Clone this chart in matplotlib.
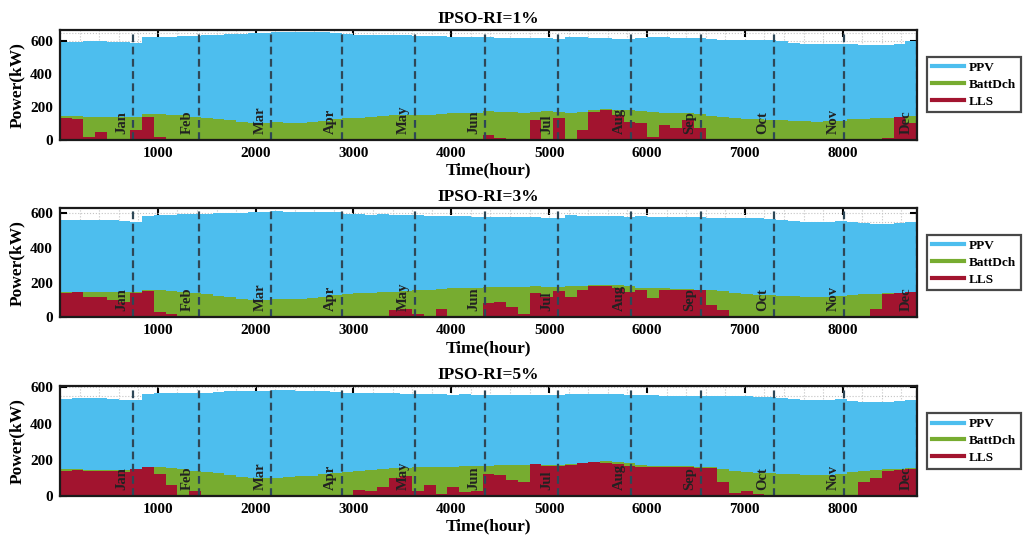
import numpy as np
import matplotlib
matplotlib.use('Agg')
import matplotlib.pyplot as plt
from matplotlib.lines import Line2D
from matplotlib.ticker import MultipleLocator

plt.rcParams['font.family'] = ['Liberation Serif', 'DejaVu Serif']
plt.rcParams['font.weight'] = 'bold'

# hourly series, one value per 120 h block (73 blocks = 8760 h)
block = 120
edges = np.arange(0, 8760 + block, block)

titles = ['IPSO-RI=1%', 'IPSO-RI=3%', 'IPSO-RI=5%']
months = ['Jan', 'Feb', 'Mar', 'Apr', 'May', 'Jun', 'Jul', 'Aug', 'Sep', 'Oct', 'Nov', 'Dec']
days_in_month = [31, 28, 31, 30, 31, 30, 31, 31, 30, 31, 30, 31]
ylims = [670, 630, 608]

# top of the PPV band (stacked on top of BattDch)
ppv_top_1 = [596, 598, 600, 600, 598, 594, 588, 625, 628, 630,
             632, 634, 640, 642, 645, 648, 650, 652, 660, 658,
             656, 655, 657, 654, 645, 642, 640, 641, 639, 638,
             636, 634, 632, 630, 629, 630, 628, 624, 622, 621,
             620, 619, 618, 626, 625, 622, 620, 618, 616, 624,
             625, 626, 624, 623, 622, 616, 612, 610, 612, 608,
             606, 600, 592, 585, 582, 584, 586, 582, 578, 577,
             580, 585, 600]
ppv_top_2 = [560, 562, 563, 562, 560, 556, 552, 588, 590, 592,
             595, 597, 598, 600, 602, 605, 607, 608, 612, 611,
             610, 608, 607, 606, 596, 595, 594, 595, 593, 592,
             590, 588, 586, 585, 583, 582, 580, 580, 578, 580,
             578, 576, 575, 590, 588, 586, 585, 584, 582, 583,
             582, 580, 580, 578, 577, 575, 574, 575, 576, 572,
             570, 565, 558, 552, 550, 552, 556, 548, 545, 542,
             540, 545, 552]
ppv_top_3 = [538, 540, 541, 540, 536, 532, 530, 565, 567, 568,
             568, 567, 570, 575, 578, 580, 582, 583, 586, 584,
             582, 580, 578, 577, 570, 569, 568, 569, 567, 566,
             565, 563, 562, 561, 562, 561, 560, 558, 557, 558,
             556, 557, 558, 566, 566, 565, 564, 562, 560, 556,
             556, 555, 555, 554, 552, 552, 550, 551, 552, 549,
             545, 540, 534, 530, 530, 532, 534, 526, 522, 520,
             520, 524, 532]

# battery discharge
batt_1 = [145, 143, 141, 140, 141, 140, 139, 158, 157, 152,
          148, 140, 135, 128, 118, 110, 102, 100, 105, 103,
          104, 108, 115, 125, 130, 135, 140, 145, 148, 150,
          152, 150, 158, 160, 162, 165, 172, 170, 168, 165,
          170, 172, 168, 165, 170, 178, 186, 182, 178, 172,
          168, 165, 162, 160, 158, 145, 138, 132, 128, 125,
          122, 118, 115, 112, 110, 112, 115, 125, 128, 132,
          135, 140, 145]
batt_2 = [148, 147, 146, 145, 146, 145, 144, 158, 157, 152,
          148, 140, 135, 125, 115, 108, 102, 100, 104, 105,
          108, 112, 119, 128, 134, 138, 142, 146, 148, 150,
          155, 160, 165, 167, 170, 172, 176, 177, 175, 176,
          178, 177, 176, 178, 182, 186, 188, 186, 180, 172,
          170, 168, 166, 163, 160, 158, 150, 140, 132, 129,
          127, 124, 121, 119, 118, 119, 122, 128, 132, 135,
          138, 140, 145]
batt_3 = [148, 147, 146, 145, 146, 145, 144, 159, 158, 152,
          148, 140, 135, 125, 115, 107, 100, 98, 102, 104,
          108, 112, 120, 126, 132, 140, 146, 150, 154, 156,
          158, 160, 162, 163, 164, 165, 168, 170, 172, 172,
          175, 172, 170, 175, 182, 188, 191, 188, 182, 170,
          168, 166, 165, 164, 163, 160, 150, 140, 132, 128,
          126, 122, 119, 117, 117, 118, 122, 135, 140, 145,
          148, 150, 154]

# loss of load
lls_1 = [130, 125, 15, 45, 0, 0, 60, 140, 15, 0,
         0, 0, 0, 0, 0, 0, 0, 0, 0, 0,
         0, 0, 0, 0, 0, 0, 0, 0, 0, 0,
         0, 0, 0, 0, 0, 0, 25, 10, 0, 0,
         120, 0, 130, 0, 60, 170, 180, 150, 110, 100,
         15, 90, 70, 120, 70, 0, 0, 0, 0, 0,
         0, 0, 0, 0, 0, 0, 0, 0, 0, 0,
         10, 140, 100]
lls_2 = [140, 145, 120, 120, 100, 90, 140, 150, 30, 20,
         0, 0, 0, 0, 0, 0, 0, 0, 0, 0,
         0, 0, 0, 0, 0, 0, 0, 10, 40, 50,
         20, 0, 50, 5, 5, 0, 80, 90, 60, 20,
         140, 115, 150, 120, 160, 180, 178, 172, 145, 160,
         110, 155, 155, 155, 155, 70, 40, 0, 0, 0,
         0, 0, 0, 0, 0, 0, 0, 0, 0, 50,
         135, 140, 145]
lls_3 = [140, 142, 140, 138, 136, 135, 150, 158, 120, 60,
         0, 25, 5, 0, 0, 0, 0, 0, 0, 0,
         0, 0, 0, 0, 0, 35, 30, 50, 100, 110,
         30, 60, 10, 50, 20, 25, 120, 115, 90, 80,
         175, 165, 165, 170, 180, 188, 185, 178, 165, 160,
         160, 158, 160, 158, 157, 155, 80, 15, 30, 10,
         0, 0, 0, 0, 0, 0, 0, 0, 80, 100,
         140, 145, 150]

ppv_tops = [ppv_top_1, ppv_top_2, ppv_top_3]
batts = [batt_1, batt_2, batt_3]
llss = [lls_1, lls_2, lls_3]

c_ppv = '#4DBEEE'
c_batt = '#77AC30'
c_lls = '#A2142F'
c_month = '#2E4756'

month_ends = np.cumsum(days_in_month) * 24

fig = plt.figure(figsize=(10.27, 5.41), dpi=100)
positions = [[0.0584, 0.742, 0.8345, 0.2025],
             [0.0584, 0.4135, 0.8345, 0.2015],
             [0.0584, 0.0832, 0.8345, 0.2033]]

for k in range(3):
    ax = fig.add_axes(positions[k])
    ax.set_axisbelow(True)
    ax.grid(True, which='both', linestyle=':', color='#c4c4c4', linewidth=0.8)

    ax.stairs(ppv_tops[k], edges, baseline=batts[k], fill=True, color=c_ppv, lw=0)
    ax.stairs(batts[k], edges, baseline=0, fill=True, color=c_batt, lw=0)
    ax.stairs(llss[k], edges, baseline=0, fill=True, color=c_lls, lw=0)
    ax.axhline(0, color=c_lls, lw=2.2, zorder=3)

    for m, h in zip(months, month_ends):
        ax.axvline(h, color=c_month, ls=(0, (3.5, 2)), lw=1.6, zorder=4)
        ax.text(h - 115, 0.055, m, rotation=90, ha='center', va='bottom',
                fontsize=10.5, fontweight='bold', color='#222222',
                transform=ax.get_xaxis_transform(), zorder=5)

    ax.set_xlim(0, 8760)
    ax.set_ylim(0, ylims[k])
    ax.set_xticks([1000, 2000, 3000, 4000, 5000, 6000, 7000, 8000])
    ax.set_yticks([0, 200, 400, 600])
    ax.xaxis.set_minor_locator(MultipleLocator(200))
    ax.yaxis.set_minor_locator(MultipleLocator(50))
    ax.tick_params(which='major', direction='in', top=True, right=True,
                   length=5, width=1.5, labelsize=11, pad=5)
    ax.tick_params(which='minor', length=0)
    for lab in ax.get_xticklabels() + ax.get_yticklabels():
        lab.set_fontweight('bold')
    for s in ax.spines.values():
        s.set_linewidth(1.6)
        s.set_color('#1a1a1a')
        s.set_zorder(6)

    ax.set_title(titles[k], fontsize=12.5, fontweight='bold', pad=5)
    ax.set_xlabel('Time(hour)', fontsize=12.5, fontweight='bold', labelpad=2)
    ax.set_ylabel('Power(kW)', fontsize=12.5, fontweight='bold', labelpad=4)

    handles = [Line2D([], [], color=c_ppv, lw=3),
               Line2D([], [], color=c_batt, lw=3),
               Line2D([], [], color=c_lls, lw=3)]
    leg = ax.legend(handles, ['PPV', 'BattDch', 'LLS'], loc='center left',
                    bbox_to_anchor=(1.012, 0.5), fontsize=9.5, frameon=True,
                    fancybox=False, handlelength=2.4, handletextpad=0.4,
                    borderpad=0.35, labelspacing=0.35, borderaxespad=0)
    leg.get_frame().set_edgecolor('#1a1a1a')
    leg.get_frame().set_linewidth(1.6)
    for t in leg.get_texts():
        t.set_fontweight('bold')

fig.savefig('out.png', dpi=100)
